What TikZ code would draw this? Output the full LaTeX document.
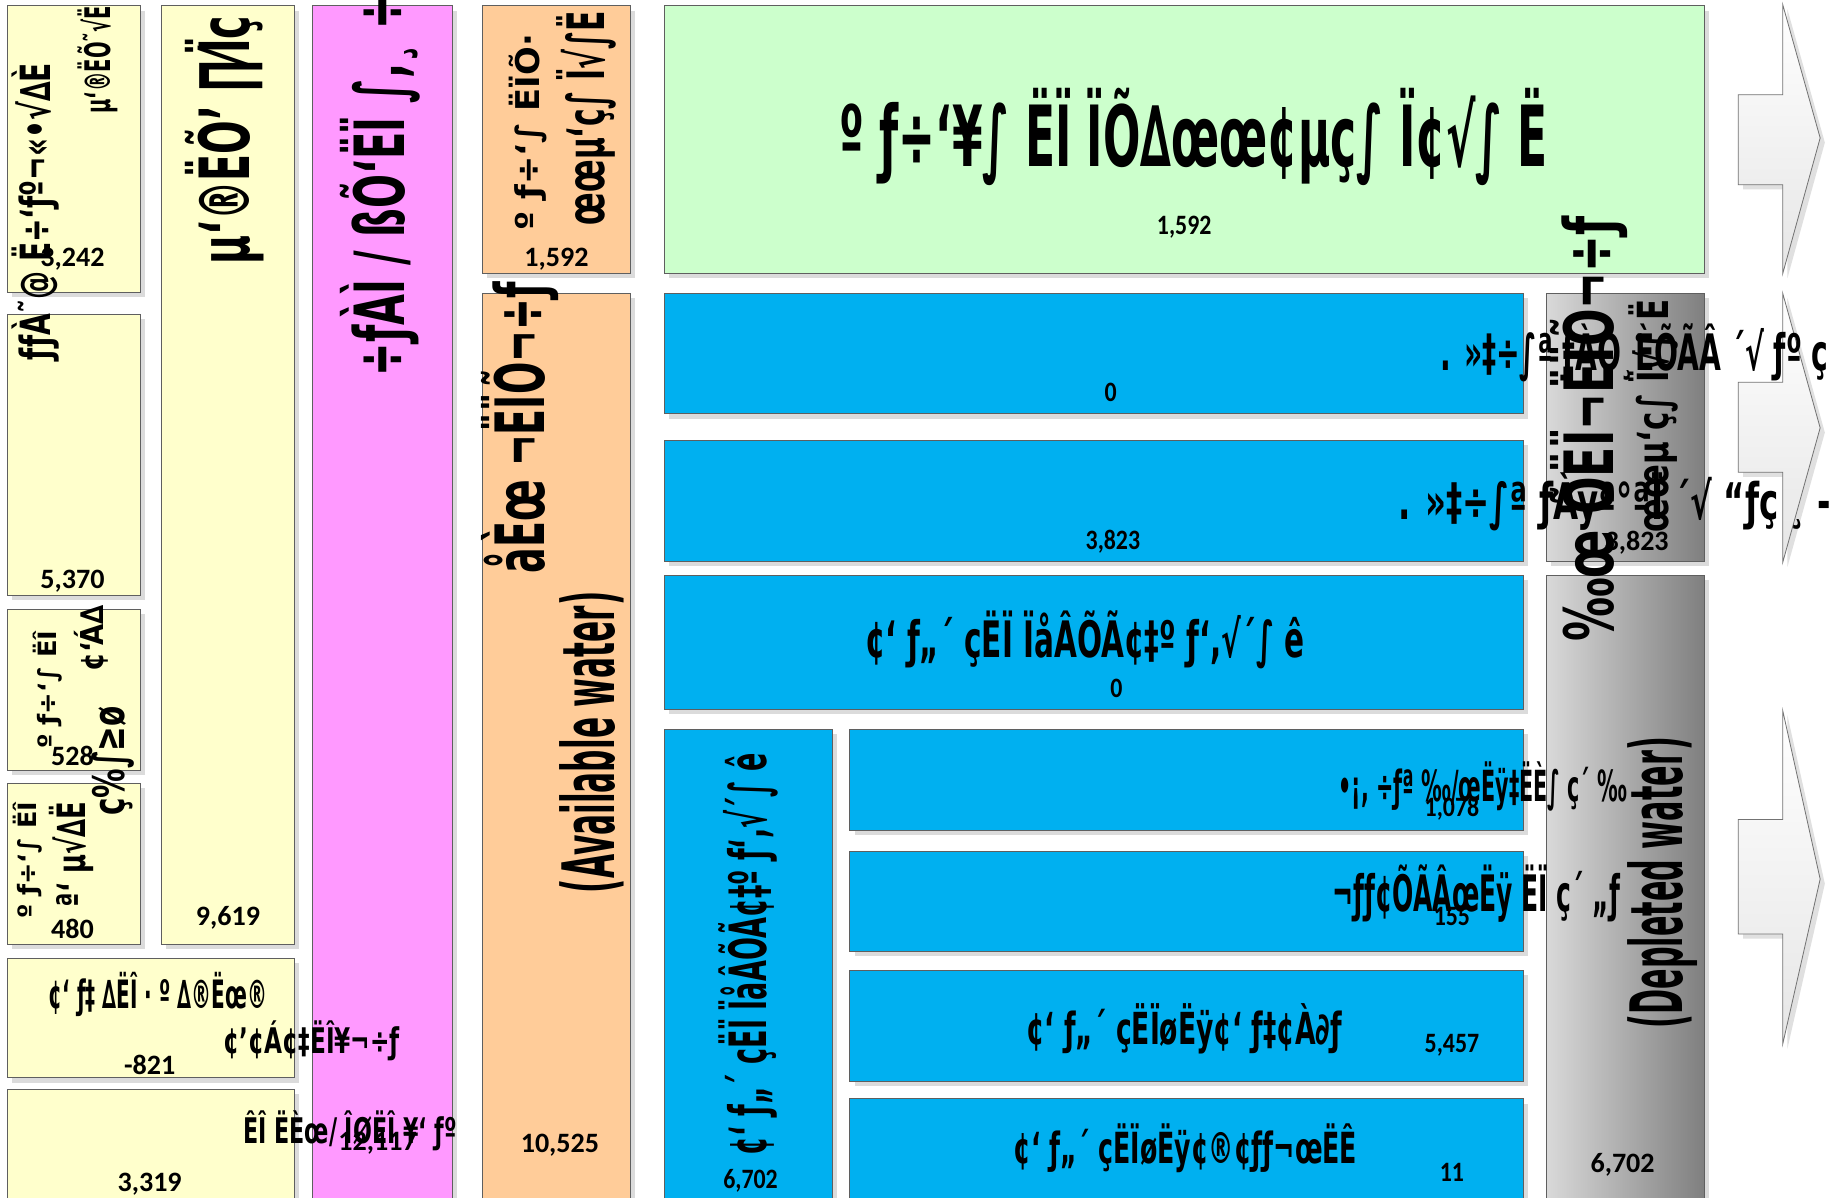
\documentclass[tikz,border=0pt]{standalone}
\usepackage{fontspec}
\setmainfont{DejaVu Sans}
\newfontfamily\garb{DejaVu Sans}[BoldFont={DejaVu Sans Bold}]
\newfontfamily\numf{Carlito}
\usetikzlibrary{shadows}
\definecolor{yel}{HTML}{FFFFCC}
\definecolor{mag}{HTML}{FF99FF}
\definecolor{ora}{HTML}{FFCC99}
\definecolor{grn}{HTML}{CCFFCC}
\definecolor{blu}{HTML}{00B0F0}
\definecolor{gl}{HTML}{D9D9D9}
\definecolor{gd}{HTML}{7F7F7F}
\definecolor{edge}{HTML}{5F5F5F}
\newcommand{\mygt}[3]{\resizebox{#1pt}{#2pt}{\garb\bfseries #3}}
\newcommand{\cnum}[1]{\scalebox{0.85}[1]{#1}}
\tikzset{
  bx/.style={draw=edge, line width=0.8pt, anchor=north west, inner sep=0pt, outer sep=0pt,
    drop shadow={shadow xshift=4pt, shadow yshift=-4pt, fill=black!14, opacity=1}},
  txt/.style={inner sep=0pt, outer sep=0pt},
  num/.style={inner sep=0pt, font=\numf\bfseries\fontsize{24}{24}\selectfont},
  blockarrow/.style={draw=black!55, line width=0.7pt, top color=white, bottom color=black!10,
    drop shadow={shadow xshift=4pt, shadow yshift=-4pt, fill=black!12, opacity=1}}
}
\begin{document}
\begin{tikzpicture}[x=1pt,y=-1pt]
\useasboundingbox (0,0) rectangle (1568,1024);
\fill[white] (0,0) rectangle (1568,1024);
% left yellow column
\node[bx, fill=yel, minimum width=114pt, minimum height=245pt] (bA) at (6,5) {};
\node[bx, fill=yel, minimum width=114pt, minimum height=240pt] (bB) at (6,269) {};
\node[bx, fill=yel, minimum width=114pt, minimum height=138pt] (bC) at (6,521) {};
\node[bx, fill=yel, minimum width=114pt, minimum height=138pt] (bD) at (6,670) {};
\node[bx, fill=yel, minimum width=114pt, minimum height=803pt] (bG) at (138,5) {};
\node[bx, fill=yel, minimum width=246pt, minimum height=102pt] (bE) at (6,820) {};
\node[bx, fill=yel, minimum width=246pt, minimum height=110pt] (bF) at (6,932) {};
% magenta and orange
\node[bx, fill=mag, minimum width=120pt, minimum height=1030pt] (bM) at (267,5) {};
\node[bx, fill=ora, minimum width=126pt, minimum height=229pt] (bOT) at (413,5) {};
\node[bx, fill=ora, minimum width=126pt, minimum height=790pt] (bOB) at (413,251) {};
% green
\node[bx, fill=grn, minimum width=890pt, minimum height=229pt] (bGr) at (568,5) {};
% blue
\node[bx, fill=blu, minimum width=735pt, minimum height=103pt] (bB1) at (568,251) {};
\node[bx, fill=blu, minimum width=735pt, minimum height=103pt] (bB2) at (568,377) {};
\node[bx, fill=blu, minimum width=735pt, minimum height=115pt] (bB3) at (568,492) {};
\node[bx, fill=blu, minimum width=144pt, minimum height=420pt] (bBT) at (568,624) {};
\node[bx, fill=blu, minimum width=576pt, minimum height=86pt] (bS1) at (727,624) {};
\node[bx, fill=blu, minimum width=576pt, minimum height=86pt] (bS2) at (727,728) {};
\node[bx, fill=blu, minimum width=576pt, minimum height=95pt] (bS3) at (727,830) {};
\node[bx, fill=blu, minimum width=576pt, minimum height=100pt] (bS4) at (727,940) {};
% gray
\node[bx, left color=gl, right color=gd, minimum width=135pt, minimum height=229pt] (bGT) at (1323,251) {};
\node[bx, left color=gl, right color=gd, minimum width=135pt, minimum height=550pt] (bGB) at (1323,492) {};
% block arrows
\path[blockarrow] (1487,81) -- (1525,81) -- (1525,4) -- (1557,118) -- (1525,234) -- (1525,158) -- (1487,158) -- cycle;
\path[blockarrow] (1487,327) -- (1525,327) -- (1525,251) -- (1557,366) -- (1525,481) -- (1525,404) -- (1487,404) -- cycle;
\path[blockarrow] (1487,701) -- (1525,701) -- (1525,608) -- (1557,752) -- (1525,893) -- (1525,799) -- (1487,799) -- cycle;

% horizontal texts
\node[txt] (tGr) at (1021,117) {\mygt{606}{67}{º ƒ÷‘¥∫ ËÏ ÏÕ∆œœ¢µç∫ Ï¢√∫ Ë}};
\node[txt, anchor=west] (tR1) at (1232,302) {\mygt{360}{40}{. »‡÷∫ª ƒÀÓ¸ÈÕÃÂ ´√ ƒº ç´„}};
\node[txt, anchor=west] (tR2) at (1196,429) {\mygt{370}{40}{. »‡÷∫ª ƒÀÿª°ªÏ ´√ “ƒç ¸ -}};
\node[txt] (tR3) at (928,547) {\mygt{376}{40}{¢‘ ƒ„´ çËÏ ÏåÂÕÃ¢‡º ƒ‘,√´∫ ê}};
\node[txt, anchor=west] (tS1) at (1145,673) {\mygt{247}{34}{•¡, ÷ƒª ‰/œËÿ‡ËÈ∫ ç´ ‰}};
\node[txt, anchor=west] (tS2) at (1140,764) {\mygt{246}{40}{¬ƒƒ¢ÕÃÂœËÿ ËÏ ç´ „ƒ}};
\node[txt] (tS3) at (1013,880) {\mygt{270}{35}{¢‘ ƒ„´ çËÏøËÿ¢‘ ƒ‡¢À∂ƒ}};
\node[txt] (tS4) at (1014,982) {\mygt{294}{34}{¢‘ ƒ„´ çËÏøËÿ¢®¢ƒƒ¬œËÊ}};
\node[txt] (tE1) at (135,851) {\mygt{187}{31}{¢‘ ƒ‡ ∆ËÎ · º ∆®Ëœ®}};
\node[txt, anchor=west] (tE2) at (191,890) {\mygt{151}{28}{¢’¢Á¢‡ËÎ¥¬÷ƒ}};
\node[txt, anchor=west] (tF) at (208,967) {\mygt{183}{28}{ÊÎ ËÈœ/ ÎØËÎ ¥‘ ƒº}};

% vertical texts
\node[txt, rotate=90] (tA1) at (30,181) {\mygt{254}{33}{ƒƒÀ˜@ Ë÷‘ƒº¬«•√∆È}};
\node[txt, rotate=90] (tA2) at (84,51) {\mygt{92}{28}{µ‘®ËÕ˜√Ë}};
\node[txt, rotate=90] (tC1) at (41,590) {\mygt{101}{20}{º ƒ÷‘∫ ËÎ}};
\node[txt, rotate=90] (tC2) at (78,546) {\mygt{57}{25}{¢‘Á∆}};
\node[txt, rotate=90] (tC3) at (97,651) {\mygt{94}{28}{ç\%∫≥ø}};
\node[txt, rotate=90] (tD1) at (24,736) {\mygt{100}{20}{º ƒ÷‘∫ ËÎ}};
\node[txt, rotate=90] (tD2) at (61,731) {\mygt{90}{31}{ª‘ µ√∆Ë}};
\node[txt, rotate=90] (tG) at (192,120) {\mygt{213}{55}{µ‘®ËÕ’ ∏⁄Ïç}};
\node[txt, rotate=90] (tM) at (325,152) {\mygt{340}{55}{÷ƒÀÌ / ßÕ‘ËÏ ∫,¸ ÷ƒ}};
\node[txt, rotate=90] (tOT1) at (452,113) {\mygt{168}{26}{º ƒ÷‘∫ ËÏÕ·}};
\node[txt, rotate=90] (tOT2) at (502,101) {\mygt{183}{41}{œœµ‘ç∫ Ï√∫Ë}};
\node[txt, rotate=90] (tOB1) at (445,366) {\mygt{249}{54}{åÈœ ¬ËÏÕ¬÷ƒ}};
\node[txt, rotate=90] (tOB2) at (506,635) {\mygt{258}{47}{(Available water)}};
\node[txt, rotate=90] (tBT) at (640,816) {\mygt{344}{41}{¢‘ ƒ„´ çËÏ ÏåÂÕÃ¢‡º ƒ‘,√´∫ ê}};
\node[txt, rotate=90] (tGT1) at (1359,367) {\mygt{364}{54}{‰œ ÕËÏ¬ËÏÕ¬÷ƒ}};
\node[txt, rotate=90] (tGT2) at (1414,356) {\mygt{199}{34}{œœµ‘ç∫ Ï√∫ Ë}};
\node[txt, rotate=90] (tGB) at (1422,755) {\mygt{249}{47}{(Depleted water)}};

% numbers
\node[num] (nA) at (62,222) {3,242};
\node[num] (nB) at (62,497) {5,370};
\node[num] (nC) at (62,647) {528};
\node[num] (nD) at (62,795) {480};
\node[num] (nG) at (195,785) {9,619};
\node[num] (nE) at (128,911) {-821};
\node[num] (nF) at (128,1013) {3,319};
\node[num] (nM) at (323,978) {12,117};
\node[num] (nOT) at (476,222) {1,592};
\node[num] (nOB) at (479,980) {10,525};
\node[num] (nGr) at (1013,194) {\cnum{1,592}};
\node[num] (nB1) at (950,336) {\cnum{0}};
\node[num] (nB2) at (952,463) {\cnum{3,823}};
\node[num] (nB3) at (955,589) {\cnum{0}};
\node[num] (nBT) at (642,1010) {\cnum{6,702}};
\node[num] (nS1) at (1242,692) {\cnum{1,078}};
\node[num] (nS2) at (1242,784) {\cnum{155}};
\node[num] (nS3) at (1242,894) {\cnum{5,457}};
\node[num] (nS4) at (1242,1003) {\cnum{11}};
\node[num] (nGT) at (1400,464) {3,823};
\node[num] (nGB) at (1388,996) {6,702};
\end{tikzpicture}
\end{document}
